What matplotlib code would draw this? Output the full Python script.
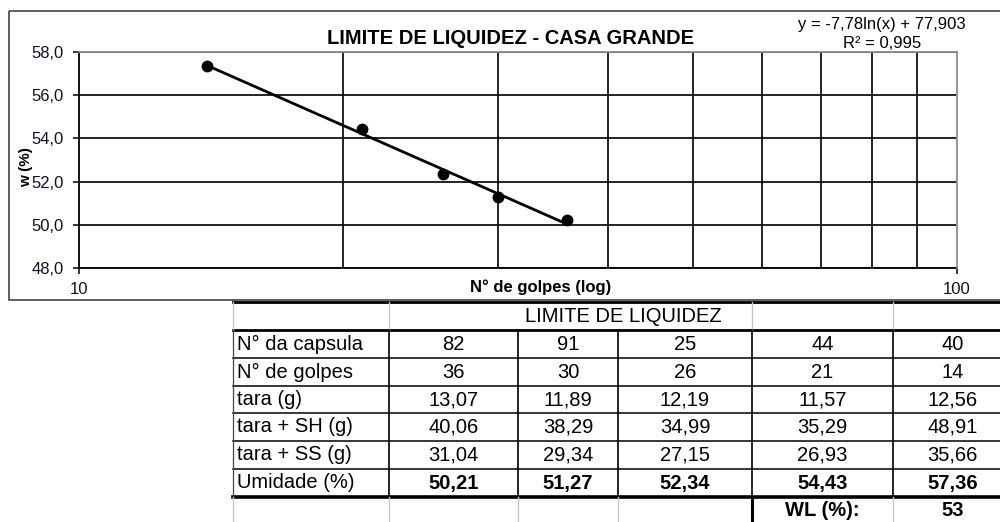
import matplotlib
matplotlib.use("Agg")
import matplotlib.pyplot as plt
from matplotlib.ticker import FuncFormatter, FixedLocator, NullFormatter
from matplotlib.patches import Rectangle
import numpy as np

plt.rcParams['font.family'] = ['Liberation Sans', 'DejaVu Sans']

# --- dados da tabela ---
row_labels = ["N° da capsula", "N° de golpes", "tara (g)", "tara + SH (g)",
              "tara + SS (g)", "Umidade (%)"]
capsula = ["82", "91", "25", "44", "40"]
golpes = [36, 30, 26, 21, 14]
tara = [13.07, 11.89, 12.19, 11.57, 12.56]
tara_sh = [40.06, 38.29, 34.99, 35.29, 48.91]
tara_ss = [31.04, 29.34, 27.15, 26.93, 35.66]
umidade = [50.21, 51.27, 52.34, 54.43, 57.36]
wl = 53

# linha de tendencia (Excel): y = a*ln(x) + b
trend_a = -7.78
trend_b = 77.903
trend_r2 = 0.995

def virgula(v, nd=2):
    return f"{v:.{nd}f}".replace(".", ",")

W, H = 1000, 522
fig = plt.figure(figsize=(W / 100, H / 100), dpi=100)

# camada de fundo em pixels (moldura, tabela, textos soltos)
ov = fig.add_axes([0, 0, 1, 1])
ov.set_xlim(0, W)
ov.set_ylim(H, 0)
ov.axis('off')

ov.add_patch(Rectangle((9, 11), 1000, 289, fill=False, ec='#333333', lw=1.1))

# --- grafico ---
ax = fig.add_axes([79 / W, 1 - 268 / H, 878 / W, 216 / H])
ax.set_xscale('log')
ax.set_xlim(10, 100)
ax.set_ylim(48, 58)

ax.set_yticks(np.arange(48, 58.1, 2))
ax.yaxis.set_major_formatter(FuncFormatter(lambda v, p: virgula(v, 1)))
ax.xaxis.set_major_locator(FixedLocator([10, 100]))
ax.xaxis.set_major_formatter(FuncFormatter(lambda v, p: f"{v:.0f}"))
ax.xaxis.set_minor_locator(FixedLocator(np.arange(20, 100, 10)))
ax.xaxis.set_minor_formatter(NullFormatter())

ax.grid(which='major', axis='y', color='black', lw=1.2)
ax.grid(which='minor', axis='x', color='black', lw=1.2)
ax.tick_params(axis='both', which='major', direction='out', length=4,
               width=1.1, color='black', labelsize=12, labelcolor='#111122')
ax.tick_params(axis='y', pad=7)
ax.tick_params(axis='x', pad=6)
ax.tick_params(axis='x', which='minor', length=0)

for s in ('left', 'bottom'):
    ax.spines[s].set_color('black')
    ax.spines[s].set_linewidth(1.3)
for s in ('top', 'right'):
    ax.spines[s].set_color('#8c8c8c')
    ax.spines[s].set_linewidth(1.3)
    ax.spines[s].set_zorder(3)

xt = np.array([min(golpes), max(golpes)])
ax.plot(xt, trend_a * np.log(xt) + trend_b, color='black', lw=2.0, zorder=4)
ax.plot(golpes, umidade, 'o', color='black', ms=7.5, zorder=5)

ax.set_xlabel("N° de golpes (log)", fontsize=12, fontweight='bold')
ax.xaxis.set_label_coords((541 - 79) / 878, (268 - 279) / 216)
ax.set_ylabel("w (%)", fontsize=11, fontweight='bold')
ax.yaxis.set_label_coords((33 - 79) / 878, (268 - 167) / 216)

ov.text(511, 38, "LIMITE DE LIQUIDEZ - CASA GRANDE", fontsize=14.5,
        fontweight='bold', ha='center', va='center')
ov.text(882, 25, f"y = {virgula(trend_a)}ln(x) + {virgula(trend_b, 3)}",
        fontsize=12, ha='center', va='center')
ov.text(882, 43, f"R² = {virgula(trend_r2, 3)}", fontsize=12,
        ha='center', va='center')

# --- tabela ---
cx = [233, 389, 518, 618, 752, 893, 1012]
ry = [302, 330, 358, 386, 413, 441, 469, 497, 525]
grey = '#c8c8c8'

for y, lw in [(302, 2.0), (330, 2.0), (497, 2.6)]:
    ov.plot([cx[0], cx[-1]], [y, y], color='black', lw=lw)
for y in ry[2:7]:
    ov.plot([cx[0], cx[-1]], [y, y], color='black', lw=1.1)

for x in (233, 389, 752, 893):
    ov.plot([x, x], [ry[0], ry[1]], color=grey, lw=1.0)
ov.plot([233, 233], [ry[1], ry[7]], color='#444444', lw=0.9)
for x in cx[1:6]:
    ov.plot([x, x], [ry[1], ry[7]], color='black', lw=1.2)
for x in (233, 389, 518, 618, 893):
    ov.plot([x, x], [ry[7], ry[8]], color=grey, lw=1.0)
ov.plot([752, 752], [ry[7], ry[8]], color='black', lw=2.2)

ov.text(623, (ry[0] + ry[1]) / 2, "LIMITE DE LIQUIDEZ", fontsize=14.5,
        ha='center', va='center')

table_rows = [
    capsula,
    [str(g) for g in golpes],
    [virgula(v) for v in tara],
    [virgula(v) for v in tara_sh],
    [virgula(v) for v in tara_ss],
    [virgula(v) for v in umidade],
]
# a tabela lista as colunas na ordem inversa do grafico
for i, (lab, vals) in enumerate(zip(row_labels, table_rows)):
    yc = (ry[i + 1] + ry[i + 2]) / 2
    ov.text(cx[0] + 4, yc, lab, fontsize=14.5, ha='left', va='center')
    bold = 'bold' if i == 5 else 'normal'
    for j, v in enumerate(vals):
        xc = (cx[j + 1] + cx[j + 2]) / 2
        ov.text(xc, yc, v, fontsize=14.5, ha='center', va='center',
                fontweight=bold)

yc = (ry[7] + ry[8]) / 2
ov.text((cx[4] + cx[5]) / 2, yc, "WL (%):", fontsize=14.5, ha='center',
        va='center', fontweight='bold')
ov.text((cx[5] + cx[6]) / 2, yc, str(wl), fontsize=14.5, ha='center',
        va='center', fontweight='bold')

fig.savefig("out.png", dpi=100)
